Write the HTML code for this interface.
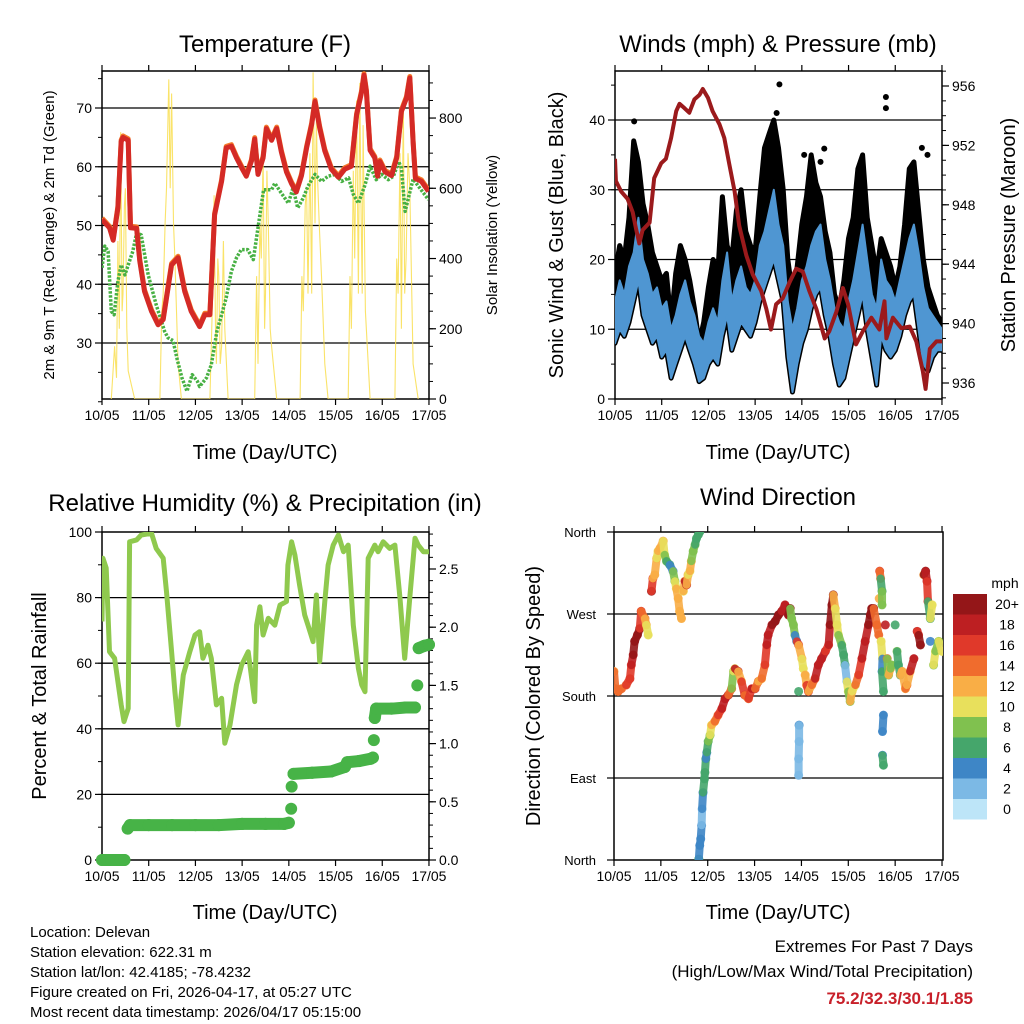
<!DOCTYPE html>
<html><head><meta charset="utf-8"><style>
body{margin:0;background:#fff}
svg{display:block;font-family:"Liberation Sans",sans-serif}
</style></head><body>
<svg id="fig" width="1024" height="1024" viewBox="0 0 1024 1024" xmlns="http://www.w3.org/2000/svg">
<rect width="1024" height="1024" fill="#fff"/>
<text x="265" y="52" font-size="24" text-anchor="middle">Temperature (F)</text>
<text x="778" y="52" font-size="24" text-anchor="middle">Winds (mph) &amp; Pressure (mb)</text>
<text x="265" y="511" font-size="24" text-anchor="middle">Relative Humidity (%) &amp; Precipitation (in)</text>
<text x="778" y="505" font-size="24" text-anchor="middle">Wind Direction</text>
<text x="265" y="459" font-size="20" text-anchor="middle">Time (Day/UTC)</text>
<text x="778" y="459" font-size="20" text-anchor="middle">Time (Day/UTC)</text>
<text x="265" y="919" font-size="20" text-anchor="middle">Time (Day/UTC)</text>
<text x="778" y="919" font-size="20" text-anchor="middle">Time (Day/UTC)</text>
<text transform="translate(54,235) rotate(-90)" font-size="15" text-anchor="middle">2m &amp; 9m T (Red, Orange) &amp; 2m Td (Green)</text>
<text transform="translate(497,235) rotate(-90)" font-size="15" text-anchor="middle">Solar Insolation (Yellow)</text>
<text transform="translate(563,235) rotate(-90)" font-size="20" text-anchor="middle">Sonic Wind &amp; Gust (Blue, Black)</text>
<text transform="translate(1015,235) rotate(-90)" font-size="20" text-anchor="middle">Station Pressure (Maroon)</text>
<text transform="translate(46,696) rotate(-90)" font-size="20" text-anchor="middle">Percent &amp; Total Rainfall</text>
<text transform="translate(540,696) rotate(-90)" font-size="20" text-anchor="middle">Direction (Colored By Speed)</text>
<g font-size="15">
<text x="30" y="937">Location: Delevan</text>
<text x="30" y="957">Station elevation: 622.31 m</text>
<text x="30" y="977">Station lat/lon: 42.4185; -78.4232</text>
<text x="30" y="997">Figure created on Fri, 2026-04-17, at 05:27 UTC</text>
<text x="30" y="1017">Most recent data timestamp: 2026/04/17 05:15:00</text>
</g>
<text x="973" y="952" font-size="17" text-anchor="end">Extremes For Past 7 Days</text>
<text x="973" y="977" font-size="17" text-anchor="end">(High/Low/Max Wind/Total Precipitation)</text>
<text x="973" y="1004" font-size="17" font-weight="bold" fill="#c8202a" text-anchor="end">75.2/32.3/30.1/1.85</text>
<text x="1005" y="588" font-size="14" text-anchor="middle">mph</text>
</svg>
<script>
const dayLabels=['10/05','11/05','12/05','13/05','14/05','15/05','16/05','17/05'];
const tempTicks=[30,40,50,60,70];
const solarTicks=[0,200,400,600,800];
const windTicks=[0,10,20,30,40];
const presTicks=[936,940,944,948,952,956];
const rhTicks=[0,20,40,60,80,100];
const rainTicks=[0,0.5,1.0,1.5,2.0,2.5];
const dirTicks=[0,90,180,270,360];
const dirLabels=['North','East','South','West','North'];
const cbLabels=['0','2','4','6','8','10','12','14','16','18','20+'];
const cbColors=['#bde5f8','#7cb9e5','#3e86c6','#45a66b','#80c14f','#e8e05c','#f9ae46','#f06c2d','#e0392a','#bd1f22','#941618'];

const tDay=[0,0.16,0.24,0.34,0.41,0.45,0.56,0.61,0.74,0.81,0.91,1.06,1.2,1.31,1.49,1.63,1.77,1.91,2.09,2.2,2.31,2.41,2.56,2.66,2.77,2.88,2.99,3.09,3.2,3.27,3.34,3.45,3.52,3.63,3.74,3.84,3.95,4.06,4.16,4.27,4.38,4.49,4.56,4.66,4.77,4.91,5.06,5.2,5.34,5.45,5.56,5.61,5.66,5.74,5.84,5.9,5.95,6.06,6.2,6.31,6.41,6.52,6.59,6.66,6.71,6.84,6.99];
const tempVals=[51,49.6,47.5,53,64.3,65,64.5,49.6,49.5,43.9,38.8,35.4,33.1,34,43.3,44.5,38.8,35.4,32.8,34.8,34.8,51.8,57.5,63.2,63.5,61.5,59.8,58.4,61,64.7,58.7,61.5,66.5,64.5,66.5,62.5,59.1,57.1,55.7,58.5,63.2,67.2,71.1,66.6,62.7,59.6,58.2,59.6,60.1,68.8,72.8,75.6,72.8,62.8,61.5,58.4,60.9,59.1,58.5,61.5,69.4,71.7,75.1,64.2,58,57.5,55.8];
const tdDay=[0,0.06,0.13,0.2,0.26,0.34,0.41,0.49,0.66,0.74,0.84,0.99,1.16,1.34,1.41,1.52,1.61,1.71,1.82,1.93,2.04,2.09,2.24,2.34,2.46,2.56,2.66,2.77,2.88,2.98,3.12,3.24,3.34,3.46,3.63,3.7,3.84,3.99,4.09,4.19,4.31,4.41,4.56,4.7,4.84,4.99,5.13,5.28,5.38,5.49,5.63,5.74,5.87,5.99,6.13,6.24,6.35,6.41,6.49,6.66,6.99];
const tdVals=[42.8,46.5,45.6,35.4,34.8,40.5,43.3,41.6,45.6,48.7,48.4,41.6,36.5,32,30.9,30.4,27.2,24.1,21.8,24.6,23.5,22.6,24.1,26.3,32,34.8,37.7,42.2,44.5,45.9,45.9,44.2,49.6,56.1,56.1,57.2,55.5,53.8,56.4,53,54.7,56.7,58.7,57.5,58.4,58.7,57.5,58.1,55.3,53.8,56.9,60.1,57.8,58.7,57.8,58.4,60.9,59.8,52.4,57.9,54.4];
const solDay=[0.2,0.27,0.31,0.34,0.37,0.4,0.43,0.45,0.48,0.5,0.53,0.56,0.63,0.7,1.24,1.28,1.31,1.35,1.38,1.43,1.46,1.49,1.53,1.56,1.63,1.7,2.31,2.34,2.36,2.4,2.43,2.45,2.48,2.5,2.53,2.56,2.6,2.63,2.7,3.27,3.31,3.34,3.38,3.41,3.45,3.48,3.5,3.53,3.56,3.6,3.63,3.74,4.24,4.28,4.31,4.35,4.38,4.41,4.45,4.49,4.52,4.56,4.59,4.61,4.65,4.7,4.77,4.84,5.27,5.31,5.34,5.38,5.41,5.45,5.49,5.52,5.54,5.57,5.59,5.64,5.74,6.27,6.31,6.34,6.38,6.41,6.45,6.48,6.51,6.55,6.59,6.66,6.77];
const solVals=[0,150,60,450,200,760,250,300,550,600,200,80,40,0,0,250,300,500,600,910,600,870,500,400,100,0,0,150,250,580,200,100,400,350,100,150,450,200,0,0,350,100,500,400,700,200,300,650,500,200,150,0,0,350,250,550,600,300,700,300,930,500,800,650,500,350,100,0,0,350,200,650,400,850,300,900,600,300,780,250,0,0,400,300,700,200,850,300,400,700,600,100,0];
const presDay=[0,0.02,0.13,0.27,0.38,0.45,0.52,0.59,0.74,0.84,0.99,1.09,1.2,1.31,1.38,1.49,1.59,1.7,1.81,1.88,1.99,2.09,2.24,2.34,2.45,2.56,2.66,2.81,2.95,3.13,3.24,3.34,3.45,3.59,3.74,3.88,4.02,4.16,4.31,4.49,4.59,4.74,4.88,4.99,5.16,5.31,5.49,5.66,5.77,5.81,5.95,6.13,6.31,6.45,6.59,6.65,6.74,6.88,7.0];
const presVals=[951.1,949.6,948.9,948.4,947.5,946.4,945.4,946.3,946.8,949.8,950.8,951.1,952.5,954.3,954.8,954.5,954.2,955.1,955.4,955.8,955.2,954.3,953.4,952.5,950.7,948.9,946.6,944.6,943.3,942.2,941,939.6,941.3,941.7,942.8,943.7,943.5,942.2,941,939,939.5,940.8,942.4,941.3,938.6,939.5,940.4,939.6,941.5,939,940.4,939.7,939.8,938.8,936.8,935.6,938.3,938.8,938.8];
const windDay=[0,0.1,0.2,0.3,0.4,0.5,0.6,0.7,0.8,0.9,1.0,1.1,1.2,1.3,1.4,1.5,1.6,1.7,1.8,1.9,2.0,2.1,2.2,2.3,2.4,2.5,2.6,2.7,2.8,2.9,3.0,3.1,3.2,3.3,3.4,3.5,3.6,3.7,3.8,3.9,4.0,4.1,4.2,4.3,4.4,4.5,4.6,4.7,4.8,4.9,5.0,5.1,5.2,5.3,5.4,5.5,5.6,5.7,5.8,5.9,6.0,6.1,6.2,6.3,6.4,6.5,6.6,6.7,6.8,6.9,7.0];
const windHigh=[14,17,15,19,21,26,20,18,15,16,13,14,10,12,15,17,14,12,9,8,11,13,11,17,21,14,17,19,16,15,17,22,24,27,30,25,22,14,10,13,17,19,22,24,25,20,17,13,11,10,14,17,21,25,20,15,13,20,17,16,14,17,20,23,25,21,16,13,12,11,10];
const windLow=[8,10,9,11,14,17,12,10,8,9,6,7,3,5,7,9,7,5,2.5,3,5,6,5,9,12,7,9,11,10,9,11,14,16,18,20,17,14,6,1,5,8,10,13,15,16,12,9,5,2,3,6,9,12,15,10,6,2,9,7,6,7,9,12,14,15,10,5,4,6,7,7];
const gustHigh=[18,22,20,26,37,34,28,25,21,19,17,18,11,18,22,20,17,13,8,11,16,20,18,29,22,20,27,30,24,22,21,29,36,38,40,36,30,20,15,19,25,29,35,31,29,24,21,15,13,17,23,26,33,35,26,22,18,23,21,19,16,19,25,33,34,27,20,16,14,12,11];
const gustOutDay=[0.41,3.52,5.8,5.8,4.05,4.48,6.57,6.69,3.46,4.4,5.3];
const gustOutVals=[39.8,45.1,43.3,41.7,35,35.9,36,35,41,34,32];
const rhDay=[0,0.02,0.09,0.16,0.27,0.34,0.41,0.47,0.56,0.59,0.74,0.84,1.06,1.16,1.31,1.38,1.49,1.56,1.63,1.74,1.88,1.99,2.09,2.16,2.27,2.34,2.45,2.56,2.63,2.74,2.88,2.99,3.13,3.27,3.31,3.38,3.45,3.56,3.7,3.81,3.95,3.98,4.06,4.13,4.23,4.34,4.41,4.52,4.59,4.66,4.77,4.84,4.95,5.06,5.17,5.27,5.38,5.49,5.56,5.63,5.7,5.84,5.91,6.02,6.16,6.27,6.38,6.48,6.6,6.7,6.77,6.88,7.0];
const rhVals=[72.7,92,89,63.5,61.5,54.4,47.3,42.2,46.2,97,97.6,99.1,99.6,95,92,81.8,63.5,51.3,41.2,56.4,63.5,68.6,69.6,61.5,65.5,61.5,47.3,49.3,35.6,41.2,53.4,59.5,63.5,48.3,71.6,77.2,68.6,73.7,71.6,77.7,78.8,89.9,97,93,83.8,74.7,71.6,66.6,80.8,60.5,78.8,89.9,96,99.1,94,96,71.6,58.4,53.4,51.3,92,96,94,97,95,96,79.8,61.5,81.8,98.1,96,94,94];
const rainDay=[0,0.1,0.2,0.3,0.4,0.48,0.55,0.6,1,1.5,2,2.5,3,3.5,3.9,4.0,4.05,4.06,4.1,4.5,4.9,5.2,5.25,5.5,5.75,5.8,5.82,5.84,5.87,6.2,6.5,6.7,6.75,6.78,6.9,7.0];
const rainVals=[0,0,0,0,0,0,0.27,0.3,0.3,0.3,0.3,0.3,0.31,0.31,0.31,0.32,0.44,0.63,0.74,0.75,0.76,0.8,0.84,0.85,0.87,0.88,1.03,1.22,1.3,1.3,1.31,1.31,1.5,1.82,1.84,1.85];
const dirDay=[0,0.03,0.09,0.16,0.26,0.34,0.37,0.41,0.44,0.5,0.55,0.58,0.66,0.69,0.73,0.8,0.83,0.87,0.91,0.94,0.98,1.05,1.08,1.12,1.19,1.26,1.3,1.33,1.37,1.4,1.44,1.48,1.51,1.55,1.58,1.62,1.65,1.69,1.73,1.76,1.8,1.83,1.81,1.83,1.85,1.87,1.88,1.9,1.93,1.94,1.96,1.98,2.01,2.05,2.08,2.15,2.22,2.3,2.37,2.44,2.51,2.55,2.58,2.65,2.72,2.79,2.87,2.94,3.01,3.08,3.15,3.22,3.26,3.29,3.37,3.44,3.51,3.58,3.65,3.72,3.76,3.79,3.83,3.86,3.9,3.94,4.01,4.04,3.94,3.95,3.95,3.94,3.94,4.08,4.11,4.15,4.22,4.29,4.36,4.43,4.51,4.58,4.61,4.65,4.68,4.72,4.76,4.79,4.86,4.9,4.93,4.97,5.0,5.04,5.08,5.15,5.22,5.29,5.36,5.43,5.47,5.5,5.54,5.61,5.65,5.66,5.67,5.69,5.72,5.72,5.7,5.73,5.72,5.75,5.75,5.73,5.73,5.75,5.79,5.83,5.86,5.9,5.93,6.0,6.04,6.07,6.11,6.15,6.22,6.25,6.32,6.4,6.47,6.5,6.54,6.61,6.65,6.68,6.7,6.75,6.79,6.75,6.82,6.86,6.93,7.0];
const dirDeg=[207,188,185,188,192,199,214,225,240,247,254,273,265,258,247,295,309,313,331,339,342,350,335,328,324,317,306,298,287,273,265,295,306,302,313,317,328,339,346,353,357,360,1,16,23,38,56,74,89,96,111,118,130,137,148,152,159,166,177,181,188,207,210,207,196,181,177,188,188,196,199,214,236,247,258,262,269,273,280,269,276,265,258,247,240,236,221,210,185,148,130,111,93,203,192,185,192,199,214,221,229,236,258,280,291,276,258,247,236,225,214,196,185,174,185,192,203,221,240,258,269,276,276,258,247,287,317,309,295,280,240,221,207,185,159,141,115,104,258,221,203,210,214,258,229,214,203,207,188,192,207,221,251,247,236,313,317,306,284,265,280,240,214,229,240,229];
const dirSpd=[13,14,14,14,14,16,17,18,20,20,20,16,14,12,10,20,16,13,12,11,13,12,10,8,6,4,8,10,12,12,13,10,12,18,12,10,12,8,8,6,6,6,6,4,4,4,2,4,6,6,6,5,7,8,10,12,14,16,18,18,14,8,10,18,12,16,14,16,18,14,12,14,16,18,18,20,20,20,18,18,20,8,8,8,4,16,12,10,6,4,2,2,2,12,12,16,12,14,18,18,18,16,18,20,20,12,10,10,8,6,6,2,10,8,12,10,14,16,18,18,20,20,20,14,14,12,16,14,6,8,10,10,4,6,4,4,4,6,18,14,8,12,8,7,8,6,6,12,12,14,12,18,18,16,20,12,20,18,16,6,10,4,8,10,8,10];

const NS='http://www.w3.org/2000/svg';
const svg=document.getElementById('fig');
function mk(tag,attrs,parent){const e=document.createElementNS(NS,tag);for(const k in attrs)e.setAttribute(k,attrs[k]);(parent||svg).appendChild(e);return e;}
function pathD(xs,ys,fx,fy){return xs.map((d,i)=>(i?'L':'M')+fx(d).toFixed(1)+','+fy(ys[i]).toFixed(1)).join('');}

const X1=d=>102+d*46.71, X2=d=>615+d*46.71, X4=d=>614+d*46.86;
const yT=v=>108+(70-v)*5.875, yS=w=>399-w*0.3512;
const yW=v=>399-v*6.975, yP=p=>383-(p-936)*14.85;
const yRH=v=>860-v*3.28, yR=r=>860-r*116.4;
const yD=g=>860-g*0.9111;

function clip(id,x,y,w,h){const c=mk('clipPath',{id:id});mk('rect',{x:x,y:y,width:w,height:h},c);}
clip('c1',102,71,327,328);clip('c2',615,71,327,328);clip('c3',102,532,327,328);clip('c4',614,532,329,328);

function grid(parent,x0,x1,ys){ys.forEach(y=>{const l=mk('line',{x1:x0,x2:x1,y1:y,y2:y,stroke:'#000','stroke-width':1.3},parent);

});}
function frame(x0,y0,x1,y1,fx,name){
  const g=mk('g',{});
  
  
  mk('rect',{x:x0,y:y0,width:x1-x0,height:y1-y0,fill:'none',stroke:'#000','stroke-width':1.5},g);
  dayLabels.forEach((lab,i)=>{const x=fx(i);
    mk('line',{x1:x,x2:x,y1:y1,y2:y1+6,stroke:'#000','stroke-width':1.2},g);
    mk('line',{x1:x,x2:x,y1:y0,y2:y0-6,stroke:'#000','stroke-width':1.2},g);
    const t=mk('text',{x:x,y:y1+21,'font-size':14,'text-anchor':'middle'},g);t.textContent=lab;
    
    });
  return g;}
function yAxis(g,x,side,ticks,labels,fy,minorFrom,minorTo,minorStep,fs){
  const dir=side==='left'?-1:1;
  for(let v=minorFrom;v<=minorTo+1e-9;v+=minorStep){const y=fy(v);mk('line',{x1:x,x2:x+dir*4,y1:y,y2:y,stroke:'#000','stroke-width':1},g);}
  ticks.forEach((v,i)=>{const y=fy(v);mk('line',{x1:x,x2:x+dir*7,y1:y,y2:y,stroke:'#000','stroke-width':1.2},g);
    const t=mk('text',{x:x+dir*10,y:y+5,'font-size':fs||14,'text-anchor':side==='left'?'end':'start'},g);t.textContent=labels[i];
    
    });}

// Panel 1
const g1=frame(102,71,429,399,X1,'temperature');
yAxis(g1,102,'left',tempTicks,tempTicks.map(String),yT,20,75,5);
yAxis(g1,429,'right',solarTicks,solarTicks.map(String),yS,0,900,50);
const p1=mk('g',{'clip-path':'url(#c1)'});


grid(p1,102,429,tempTicks.map(yT));
const sol=mk('path',{d:pathD(solDay,solVals,X1,yS),fill:'none',stroke:'#f9de4f','stroke-width':1.1,opacity:0.85},p1);


const td=mk('path',{d:pathD(tdDay,tdVals,X1,yT),fill:'none',stroke:'#47b043','stroke-width':3.5,'stroke-dasharray':'2.5 1.5','stroke-linejoin':'round'},p1);


const t9=mk('path',{d:pathD(tDay,tempVals,X1,yT),fill:'none',stroke:'#f47a2a','stroke-width':5,'stroke-linejoin':'round',transform:'translate(0,-1.5)'},p1);


const t2=mk('path',{d:pathD(tDay,tempVals,X1,yT),fill:'none',stroke:'#d42a26','stroke-width':5,'stroke-linejoin':'round'},p1);



// Panel 2
const g2=frame(615,71,942,399,X2,'winds');
yAxis(g2,615,'left',windTicks,windTicks.map(String),yW,0,45,5);
yAxis(g2,942,'right',presTicks,presTicks.map(String),yP,935,957,1);
const p2=mk('g',{'clip-path':'url(#c2)'});


grid(p2,615,942,windTicks.slice(1).map(yW));
let dG=pathD(windDay,gustHigh,X2,yW);
for(let i=windDay.length-1;i>=0;i--)dG+='L'+X2(windDay[i]).toFixed(1)+','+yW(windLow[i]).toFixed(1);
const gust=mk('path',{d:dG+'Z',fill:'#000',stroke:'#000','stroke-width':5,'stroke-linejoin':'round'},p2);


gustOutDay.forEach((d,i)=>{const c=mk('circle',{cx:X2(d),cy:yW(gustOutVals[i]),r:3,fill:'#000'},p2);

});
let dW=pathD(windDay,windHigh,X2,yW);
for(let i=windDay.length-1;i>=0;i--)dW+='L'+X2(windDay[i]).toFixed(1)+','+yW(windLow[i]).toFixed(1);
const wind=mk('path',{d:dW+'Z',fill:'#4f96d2',stroke:'#4f96d2','stroke-width':2,'stroke-linejoin':'round'},p2);


const pres=mk('path',{d:pathD(presDay,presVals,X2,yP),fill:'none',stroke:'#9b1a1c','stroke-width':4,'stroke-linejoin':'round'},p2);



// Panel 3
const g3=frame(102,532,429,860,X1,'humidity');
yAxis(g3,102,'left',rhTicks,rhTicks.map(String),yRH,0,100,10);
yAxis(g3,429,'right',rainTicks,rainTicks.map(v=>v.toFixed(1)),yR,0,2.8,0.1);
const p3=mk('g',{'clip-path':'url(#c3)'});


grid(p3,102,429,[20,40,60,80].map(yRH));
const rh=mk('path',{d:pathD(rhDay,rhVals,X1,yRH),fill:'none',stroke:'#8fc94e','stroke-width':5,'stroke-linejoin':'round'},p3);


const rainG=mk('g',{},svg);


rainDay.forEach((d,i)=>{
  if(i>0&&Math.abs(rainVals[i]-rainVals[i-1])<0.1){mk('line',{x1:X1(rainDay[i-1]),y1:yR(rainVals[i-1]),x2:X1(d),y2:yR(rainVals[i]),stroke:'#47b347','stroke-width':12,'stroke-linecap':'round'},rainG);}
  const c=mk('circle',{cx:X1(d),cy:yR(rainVals[i]),r:6,fill:'#47b347'},rainG);
  
  });

// Panel 4
const g4=mk('g',{});


mk('rect',{x:614,y:532,width:329,height:328,fill:'none',stroke:'#000','stroke-width':1.5},g4);
dayLabels.forEach((lab,i)=>{const x=X4(i);
  mk('line',{x1:x,x2:x,y1:860,y2:866,stroke:'#000','stroke-width':1.2},g4);
  mk('line',{x1:x,x2:x,y1:532,y2:526,stroke:'#000','stroke-width':1.2},g4);
  const t=mk('text',{x:x,y:881,'font-size':14,'text-anchor':'middle'},g4);t.textContent=lab;
  
  });
dirTicks.forEach((v,i)=>{const y=yD(v);mk('line',{x1:614,x2:607,y1:y,y2:y,stroke:'#000','stroke-width':1.2},g4);
  const t=mk('text',{x:596,y:y+5,'font-size':13,'text-anchor':'end'},g4);t.textContent=dirLabels[i];
  
  });
const p4=mk('g',{'clip-path':'url(#c4)'});


grid(p4,614,943,[90,180,270].map(yD));
function spdColor(s){let i=Math.floor(s/2);if(i>10)i=10;if(i<0)i=0;return cbColors[i];}
dirDay.forEach((d,i)=>{
  if(i>0&&Math.abs(dirDeg[i]-dirDeg[i-1])<26&&Math.abs(d-dirDay[i-1])<0.09){
    const s=mk('line',{x1:X4(dirDay[i-1]),y1:yD(dirDeg[i-1]),x2:X4(d),y2:yD(dirDeg[i]),stroke:spdColor(dirSpd[i]),'stroke-width':8,'stroke-linecap':'round',opacity:0.9},p4);
    
    }
  const c=mk('circle',{cx:X4(d),cy:yD(dirDeg[i]),r:4.5,fill:spdColor(dirSpd[i]),opacity:0.9},p4);
  
  });
const cb=mk('g',{});


cbColors.forEach((col,i)=>{const y=594+(10-i)*20.5;
  const r=mk('rect',{x:953,y:y,width:34,height:20.5,fill:col},cb);
  
  
  const t=mk('text',{x:1007,y:y+15,'font-size':14,'text-anchor':'middle'},cb);t.textContent=cbLabels[i];
  
  });
</script>
</body></html>
